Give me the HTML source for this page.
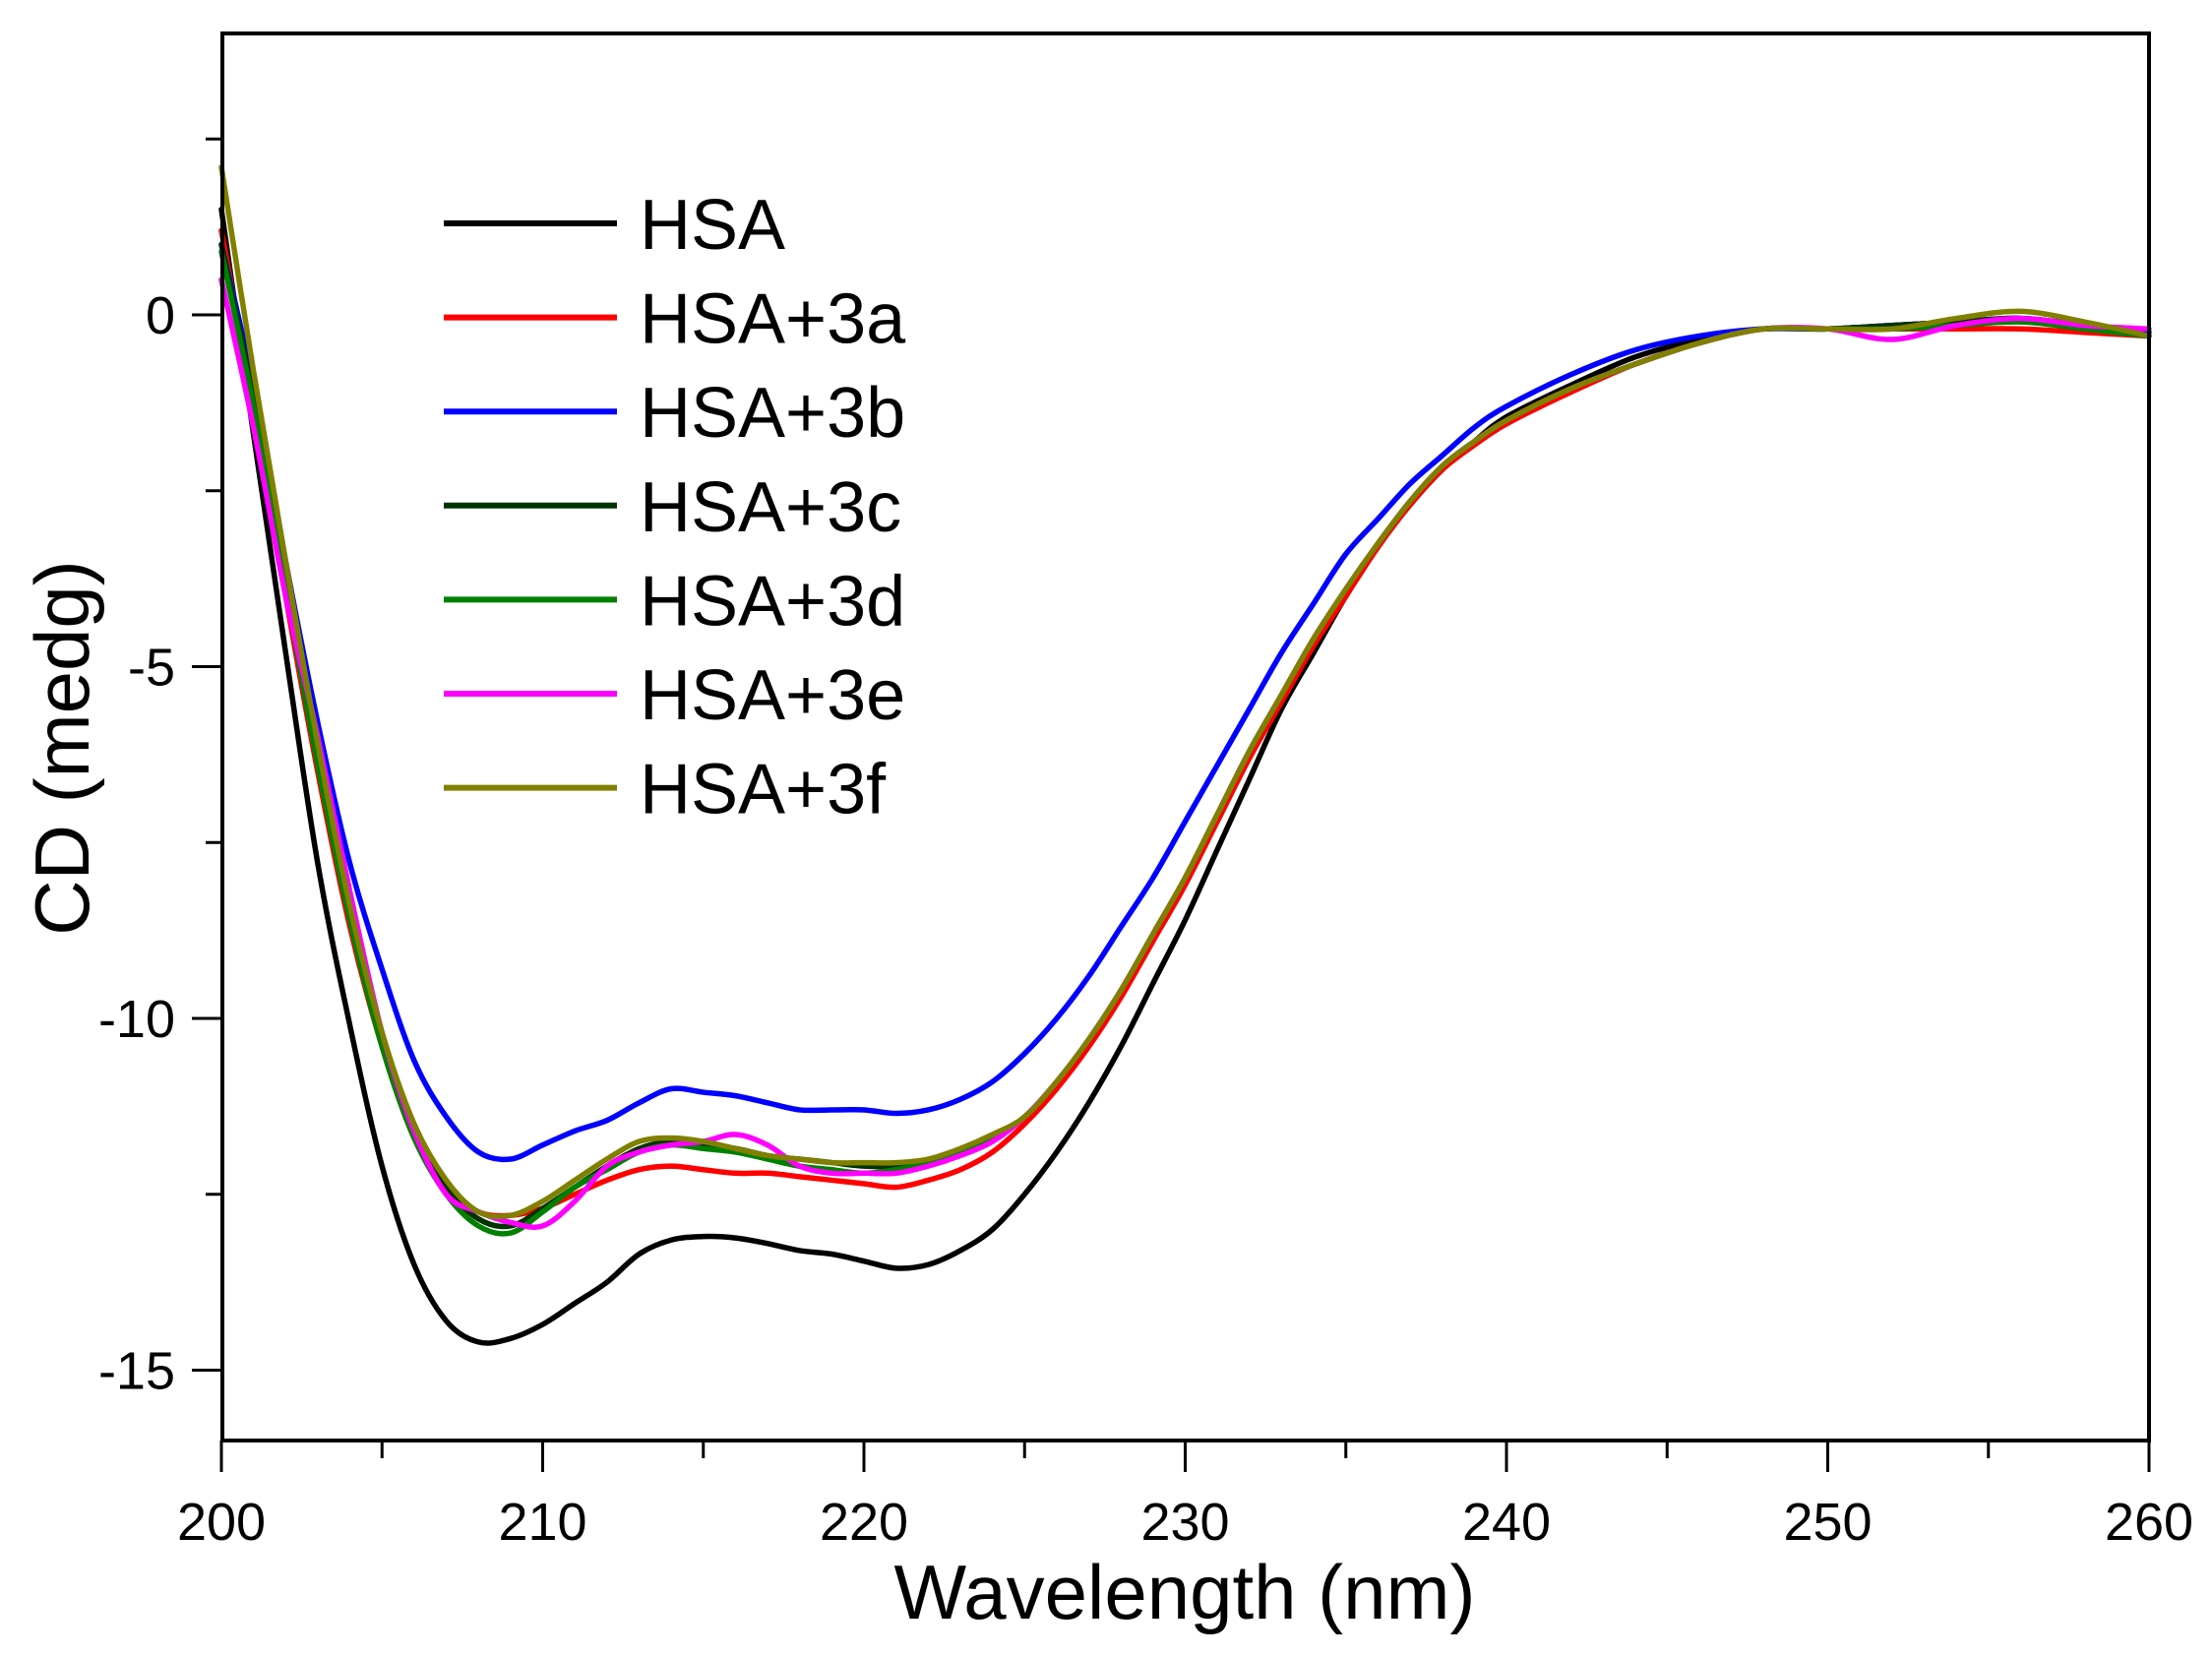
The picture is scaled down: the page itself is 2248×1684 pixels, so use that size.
<!DOCTYPE html>
<html><head><meta charset="utf-8"><style>
html,body{margin:0;padding:0;background:#fff;}
svg{display:block;font-family:"Liberation Sans",Arial,sans-serif;}
</style></head><body>
<svg id="s" width="2248" height="1684" viewBox="0 0 2248 1684" xmlns="http://www.w3.org/2000/svg">
<rect width="2248" height="1684" fill="#fff"/>
<g id="curves" fill="none" stroke-width="5.5" stroke-linejoin="round" stroke-linecap="round"></g>
<rect x="226" y="34" width="1958" height="1430" fill="none" stroke="#000" stroke-width="4"/>
<g id="ticks" stroke="#000" stroke-width="3"></g>
<g font-size="54" fill="#000" text-anchor="middle" id="xl"></g>
<g font-size="54" fill="#000" text-anchor="end" id="yl"></g>
<text x="1204" y="1645" font-size="78" text-anchor="middle">Wavelength (nm)</text>
<text transform="translate(90,760) rotate(-90)" font-size="78" text-anchor="middle">CD (medg)</text>
<g id="leg" font-size="72"></g>
</svg>
<script>
var X=function(n){return 225+32.65*(n-200);}, Y=function(v){return 320-71.5*v;};
var ns="http://www.w3.org/2000/svg";
function el(p,t,a,txt){var e=document.createElementNS(ns,t);for(var k in a)e.setAttribute(k,a[k]);if(txt!==undefined)e.textContent=txt;document.getElementById(p).appendChild(e);}
for(var n=200;n<=260;n+=5){var maj=n%10==0;el('ticks','line',{x1:X(n),y1:1464,x2:X(n),y2:1464+(maj?32:18)});if(maj)el('xl','text',{x:X(n),y:1565},n);}
for(var v=-15;v<=2.5;v+=2.5){var maj=v%5==0;el('ticks','line',{x1:226,y1:Y(v),x2:226-(maj?31:17),y2:Y(v)});if(maj)el('yl','text',{x:178,y:Y(v)+19},v);}
var right=[[225,-11.4],[226,-10.9],[227,-10.3],[228,-9.6],[229,-8.8],[230,-8.0],[231,-7.1],[232,-6.2],[233,-5.4],[234,-4.6],[235,-3.9],[236,-3.25],[237,-2.65],[238,-2.15],[239,-1.8],[240,-1.5],[242,-1.05],[244,-0.7],[246,-0.4],[248,-0.2],[250,-0.2]];
var data={
"#000":[[200,1.5],[201,-1.7],[202,-4.8],[203,-7.8],[204,-10.1],[205,-12.1],[206,-13.5],[207,-14.3],[208,-14.6],[209,-14.55],[210,-14.35],[211,-14.05],[212,-13.75],[213,-13.35],[214,-13.15],[215,-13.1],[216,-13.12],[217,-13.2],[218,-13.3],[219,-13.35],[220,-13.45],[221,-13.55],[222,-13.5],[223,-13.3],[224,-13.0],[225,-12.5],[226,-11.9],[227,-11.2],[228,-10.4],[229,-9.5],[230,-8.6],[231,-7.6],[232,-6.6],[233,-5.6],[234,-4.8],[235,-4.0],[236,-3.3],[237,-2.7],[238,-2.2],[239,-1.8],[240,-1.45],[242,-1.0],[244,-0.6],[246,-0.35],[248,-0.2],[250,-0.2],[252,-0.15],[254,-0.1],[256,-0.05],[258,-0.15],[260,-0.3]],
"#ff0000":[[200,1.2],[201,-1.3],[202,-4.0],[203,-6.5],[204,-8.7],[205,-10.4],[206,-11.7],[207,-12.4],[208,-12.75],[209,-12.8],[210,-12.7],[211,-12.5],[212,-12.3],[213,-12.15],[214,-12.1],[215,-12.15],[216,-12.2],[217,-12.2],[218,-12.25],[219,-12.3],[220,-12.35],[221,-12.4],[222,-12.3],[223,-12.15],[224,-11.9],[225,-11.5],[226,-11.0],[227,-10.4],[228,-9.7],[229,-8.9],[230,-8.1],[231,-7.2],[232,-6.3],[233,-5.5],[234,-4.7],[235,-4.0],[236,-3.3],[237,-2.7],[238,-2.2],[239,-1.85],[240,-1.55],[242,-1.1],[244,-0.7],[246,-0.4],[248,-0.2],[250,-0.2],[252,-0.2],[254,-0.2],[256,-0.2],[258,-0.25],[260,-0.3]],
"#003300":[[200,1.0],[201,-1.2],[202,-3.8],[203,-6.3],[204,-8.5],[205,-10.3],[206,-11.6],[207,-12.4],[208,-12.85],[209,-12.95],[210,-12.7],[211,-12.4],[212,-12.1],[213,-11.85],[214,-11.75],[215,-11.8],[216,-11.85],[217,-11.95],[218,-12.0],[219,-12.05],[220,-12.1],[221,-12.1],[222,-12.05],[223,-11.9],[224,-11.7]].concat(right,[[252,-0.15],[254,-0.1],[256,-0.05],[258,-0.15],[260,-0.3]]),
"#008000":[[200,0.9],[201,-1.3],[202,-3.9],[203,-6.4],[204,-8.6],[205,-10.4],[206,-11.7],[207,-12.5],[208,-12.95],[209,-13.05],[210,-12.75],[211,-12.4],[212,-12.15],[213,-11.9],[214,-11.8],[215,-11.85],[216,-11.9],[217,-12.0],[218,-12.1],[219,-12.15],[220,-12.2],[221,-12.15],[222,-12.05],[223,-11.9],[224,-11.7]].concat(right,[[252,-0.2],[254,-0.15],[256,-0.1],[258,-0.2],[260,-0.3]]),
"#0000ff":[[200,1.0],[201,-1.0],[202,-3.5],[203,-5.8],[204,-7.8],[205,-9.3],[206,-10.6],[207,-11.4],[208,-11.9],[209,-12.0],[210,-11.8],[211,-11.6],[212,-11.45],[213,-11.2],[214,-11.0],[215,-11.05],[216,-11.1],[217,-11.2],[218,-11.3],[219,-11.3],[220,-11.3],[221,-11.35],[222,-11.3],[223,-11.15],[224,-10.9],[225,-10.5],[226,-10.0],[227,-9.4],[228,-8.7],[229,-8.0],[230,-7.2],[231,-6.4],[232,-5.6],[233,-4.8],[234,-4.1],[235,-3.4],[236,-2.9],[237,-2.4],[238,-2.0],[239,-1.6],[240,-1.3],[242,-0.85],[244,-0.5],[246,-0.3],[248,-0.2],[250,-0.2],[252,-0.15],[254,-0.1],[256,-0.05],[258,-0.15],[260,-0.25]],
"#ff00ff":[[200,0.5],[201,-1.6],[202,-4.0],[203,-6.0],[204,-8.2],[205,-10.2],[206,-11.6],[207,-12.5],[208,-12.75],[209,-12.9],[210,-12.95],[211,-12.6],[212,-12.1],[213,-11.9],[214,-11.8],[215,-11.75],[216,-11.65],[217,-11.8],[218,-12.1],[219,-12.2],[220,-12.2],[221,-12.2],[222,-12.1],[223,-11.95],[224,-11.75]].concat(right,[[252,-0.35],[254,-0.15],[256,-0.05],[258,-0.15],[260,-0.2]]),
"#808000":[[200,2.1],[201,-0.8],[202,-3.5],[203,-6.1],[204,-8.4],[205,-10.2],[206,-11.5],[207,-12.3],[208,-12.75],[209,-12.8],[210,-12.6],[211,-12.3],[212,-12.0],[213,-11.75],[214,-11.7],[215,-11.75],[216,-11.85],[217,-11.95],[218,-12.0],[219,-12.05],[220,-12.05],[221,-12.05],[222,-12.0],[223,-11.85],[224,-11.65]].concat(right,[[252,-0.2],[254,-0.05],[256,0.05],[258,-0.1],[260,-0.3]])
};
function path(pts){var p=pts.map(function(a){return [X(a[0]),Y(a[1])];});var d="M"+p[0][0]+","+p[0][1];
for(var i=0;i<p.length-1;i++){var p0=p[i-1]||p[i],p1=p[i],p2=p[i+1],p3=p[i+2]||p2;
d+=" C"+(p1[0]+(p2[0]-p0[0])/6)+","+(p1[1]+(p2[1]-p0[1])/6)+" "+(p2[0]-(p3[0]-p1[0])/6)+","+(p2[1]-(p3[1]-p1[1])/6)+" "+p2[0]+","+p2[1];}return d;}
var order=["#000","#ff0000","#0000ff","#003300","#008000","#ff00ff","#808000"];
order.forEach(function(c){el('curves','path',{d:path(data[c]),stroke:c});});
var names=["HSA","HSA+3a","HSA+3b","HSA+3c","HSA+3d","HSA+3e","HSA+3f"];
for(var i=0;i<7;i++){var y=227+95.6*i;el('leg','line',{x1:451,y1:y,x2:627,y2:y,stroke:order[i],'stroke-width':6});el('leg','text',{x:650,y:y+26},names[i]);}
</script>
</body></html>
